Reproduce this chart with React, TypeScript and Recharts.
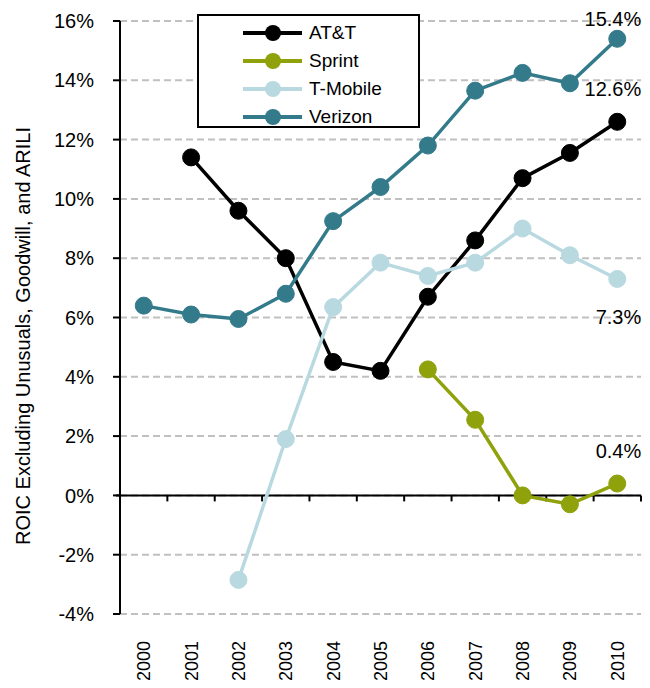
import { LineChart, Line, XAxis, YAxis, CartesianGrid, ReferenceLine, LabelList } from "recharts";

const years = ["2000", "2001", "2002", "2003", "2004", "2005", "2006", "2007", "2008", "2009", "2010"];
const att = [null, 11.4, 9.6, 8.0, 4.5, 4.2, 6.7, 8.6, 10.7, 11.55, 12.6];
const sprint = [null, null, null, null, null, null, 4.25, 2.55, 0.0, -0.3, 0.4];
const tmobile = [null, null, -2.85, 1.9, 6.35, 7.85, 7.4, 7.85, 9.0, 8.1, 7.3];
const verizon = [6.4, 6.1, 5.95, 6.8, 9.25, 10.4, 11.8, 13.65, 14.25, 13.9, 15.4];
const yTicks = [-4, -2, 0, 2, 4, 6, 8, 10, 12, 14, 16];

const data = years.map((year, i) => ({
  year,
  att: att[i],
  sprint: sprint[i],
  tmobile: tmobile[i],
  verizon: verizon[i],
}));

const series = [
  { key: "att", name: "AT&T", color: "#000000", labelDy: -26 },
  { key: "sprint", name: "Sprint", color: "#8fa10b", labelDy: -26 },
  { key: "tmobile", name: "T-Mobile", color: "#b9d9e1", labelDy: 45 },
  { key: "verizon", name: "Verizon", color: "#337a8b", labelDy: -13 },
];

const FONT = "Liberation Sans, Arial, sans-serif";

function endLabel(dy: number) {
  return (props: any) => {
    const { x, y, value, index } = props;
    if (index !== years.length - 1 || value == null) return null;
    return (
      <text x={x + 24} y={y + dy} textAnchor="end" fontSize={20} fontFamily={FONT} fill="#000">
        {Number(value).toFixed(1)}%
      </text>
    );
  };
}

function YearTick(props: any) {
  const { x, payload } = props;
  return (
    <text
      x={x}
      y={641}
      dy="0.36em"
      transform={`rotate(-90, ${x}, 641)`}
      textAnchor="end"
      fontSize={18}
      fontFamily={FONT}
      fill="#000"
    >
      {payload.value}
    </text>
  );
}

function ZeroAxis(props: any) {
  const { x1, x2, y1 } = props;
  const n = years.length;
  const step = (x2 - x1) / n;
  const ticks = [];
  for (let i = 1; i <= n; i++) {
    const tx = x1 + step * i;
    ticks.push(<line key={i} x1={tx} x2={tx} y1={y1} y2={y1 + 6} stroke="#000" strokeWidth={2} />);
  }
  return (
    <g>
      <line x1={x1 - 4} x2={x2} y1={y1} y2={y1} stroke="#000" strokeWidth={2} />
      {ticks}
    </g>
  );
}

function LegendBox() {
  return (
    <div
      style={{
        position: "absolute",
        top: 14,
        left: 197,
        border: "2px solid #000",
        background: "#fff",
        width: 219,
        height: 107,
        paddingTop: 3,
        fontFamily: FONT,
        fontSize: 19,
      }}
    >
      {series.map((s) => (
        <div key={s.key} style={{ display: "flex", alignItems: "center", height: 28 }}>
          <svg width={110} height={20} style={{ display: "block" }}>
            <line x1={44} x2={103} y1={10} y2={10} stroke={s.color} strokeWidth={4} />
            <circle cx={74} cy={10} r={8} fill={s.color} />
          </svg>
          <span style={{ color: "#000" }}>{s.name}</span>
        </div>
      ))}
    </div>
  );
}

export default function App() {
  return (
    <div style={{ margin: -8, width: 650, height: 688, background: "#fff", position: "relative" }}>
      <LineChart width={650} height={688} data={data} margin={{ top: 21, right: 9, left: 0, bottom: 0 }}>
        <CartesianGrid vertical={false} stroke="#c0c0c0" strokeDasharray="7 4" strokeWidth={2} />
        <XAxis
          dataKey="year"
          padding={{ left: 23.75, right: 23.75 }}
          axisLine={false}
          tickLine={false}
          tick={<YearTick />}
          height={74}
          interval={0}
        />
        <YAxis
          width={120}
          domain={[-4, 16]}
          ticks={yTicks}
          tickFormatter={(v: number) => `${v}%`}
          axisLine={{ stroke: "#000", strokeWidth: 2 }}
          tickLine={{ stroke: "#000", strokeWidth: 2 }}
          tickSize={7}
          tickMargin={19}
          tick={{ fill: "#000", fontSize: 20, fontFamily: FONT }}
          label={() => (
            <text
              x={30}
              y={336}
              transform="rotate(-90, 30, 336)"
              textAnchor="middle"
              fontSize={20}
              fontFamily={FONT}
              fill="#000"
            >
              ROIC Excluding Unusuals, Goodwill, and ARILI
            </text>
          )}
        />
        <ReferenceLine y={0} shape={<ZeroAxis />} />
        {series.map((s) => (
          <Line
            key={s.key}
            dataKey={s.key}
            name={s.name}
            stroke={s.color}
            strokeWidth={3.5}
            dot={{ r: 8.5, fill: s.color, stroke: s.color, strokeWidth: 1 }}
            activeDot={false}
            isAnimationActive={false}
          >
            <LabelList dataKey={s.key} content={endLabel(s.labelDy)} />
          </Line>
        ))}
      </LineChart>
      <LegendBox />
    </div>
  );
}
